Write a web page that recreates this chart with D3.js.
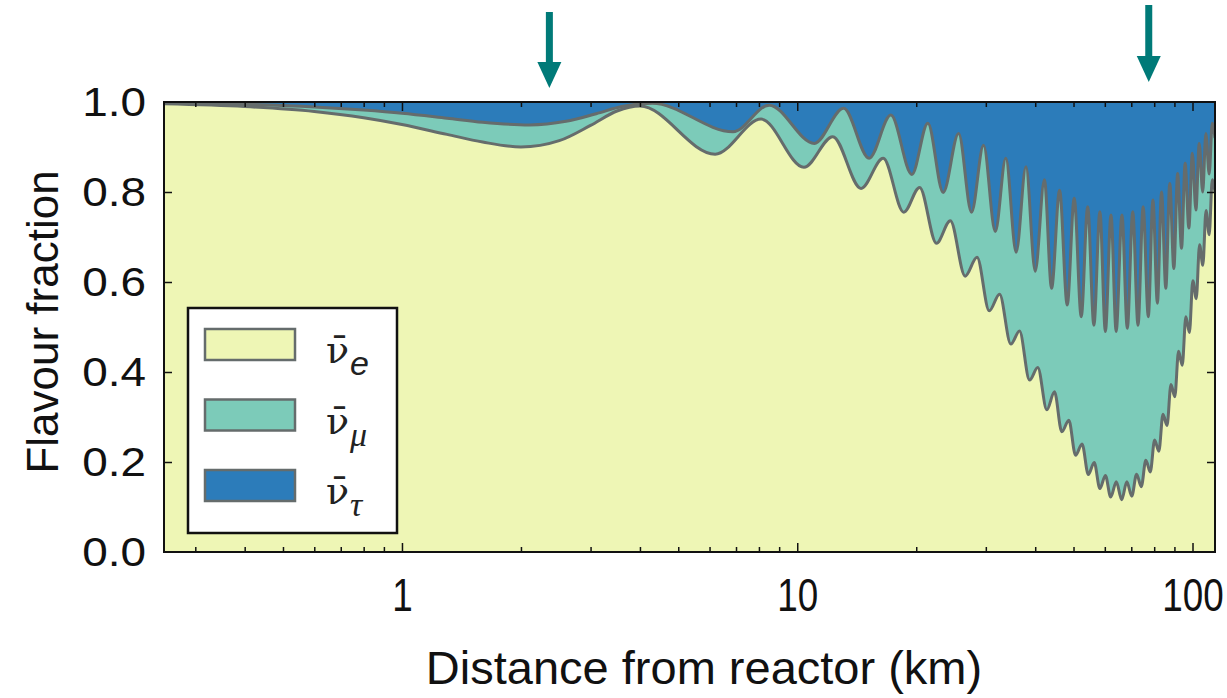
<!DOCTYPE html>
<html><head><meta charset="utf-8">
<script src="https://cdn.jsdelivr.net/npm/d3@7"></script>
<style>body{margin:0;background:#fff;overflow:hidden}</style>
</head><body>
<svg id="chart" width="1227" height="698"></svg>
<script>
// ---- data ----
// lower boundary: electron antineutrino fraction
const eDistKm = [0.25,0.4,0.6,0.8,1.0,1.3,1.6,2.0,2.5,3.0,3.5,4.0,6.2,8.1,10.4,12.3,14.5,16.5,18.6,20.4,22.5,24.4,26.6,28.5,30.6,32.5,34.7,36.5,38.7,40.6,42.8,44.75,46.7,48.65,50.6,52.55,54.5,56.4,58.3,60.2,62.1,64.15,66.2,68.2,70.2,72.2,74.2,76.2,78.2,80.2,82.2,84.2,86.2,88.2,90.2,92.2,94.2,96.2,98.2,100.2,102.2,104.2,106.2,108.2,110.2,112.2,114];
const eFraction = [0.996,0.990,0.979,0.965,0.950,0.928,0.911,0.900,0.914,0.948,0.980,0.991,0.884,0.962,0.855,0.923,0.808,0.875,0.755,0.810,0.686,0.736,0.613,0.655,0.536,0.573,0.462,0.491,0.382,0.410,0.316,0.356,0.267,0.293,0.215,0.240,0.172,0.199,0.141,0.170,0.122,0.156,0.116,0.156,0.124,0.173,0.145,0.204,0.178,0.249,0.224,0.306,0.281,0.372,0.345,0.446,0.415,0.523,0.488,0.603,0.563,0.683,0.637,0.759,0.705,0.827,0.800];
// upper boundary: electron + muon antineutrino fraction (cumulative)
const muDistKm = [0.25,0.4,0.6,0.8,1.0,1.3,1.6,2.1,2.6,3.1,3.6,4.3,6.88,8.49,11.05,13.1,15.2,17.25,19.5,21.4,23.4,25.6,27.6,29.6,31.7,33.7,35.8,37.9,40.0,42.2,44.0,46.1,48.2,50.2,52.3,54.3,56.3,58.3,60.2,62.2,64.1,66.3,68.4,70.6,72.8,75.0,77.3,79.4,81.5,83.5,85.6,87.6,89.7,91.7,93.8,95.8,97.9,99.9,102.0,104.0,106.1,108.1,110.2,112.2,114];
const muTopFraction = [0.998,0.995,0.989,0.982,0.975,0.964,0.955,0.949,0.957,0.974,0.990,0.997,0.934,0.993,0.908,0.986,0.875,0.971,0.839,0.953,0.799,0.930,0.755,0.904,0.712,0.875,0.666,0.856,0.624,0.827,0.586,0.804,0.549,0.786,0.523,0.767,0.504,0.756,0.490,0.749,0.490,0.749,0.497,0.756,0.504,0.767,0.523,0.782,0.553,0.800,0.586,0.819,0.630,0.841,0.675,0.864,0.720,0.886,0.760,0.908,0.800,0.930,0.840,0.953,0.920];
const yTickValues = [0.0,0.2,0.4,0.6,0.8,1.0];
const xMajorTicks = [1,10,100];
const xMinorTicks = [0.3,0.4,0.5,0.6,0.7,0.8,0.9,2,3,4,5,6,7,8,9,20,30,40,50,60,70,80,90];
const legendFlavours = ["e","μ","τ"];
const arrowKm = [2.36,77.5];

// ---- layout ----
const C = {yellow:"#eef6b5", teal:"#7ccbb9", blue:"#2c7cba", line:"#656c6c", arrow:"#007a78"};
const M = {left:164, right:1215, top:102, bottom:552};
const SANS = "Liberation Sans, Arial, sans-serif", SERIF = "Liberation Serif, Times New Roman, serif";
const svg = d3.select("#chart");
const x = d3.scaleLog().domain([0.25,114]).range([M.left,M.right]);
const y = d3.scaleLinear().domain([0,1]).range([M.bottom,M.top]);

svg.append("defs").append("clipPath").attr("id","clip")
  .append("rect").attr("x",M.left).attr("y",M.top).attr("width",M.right-M.left).attr("height",M.bottom-M.top);

const plot = svg.append("g").attr("clip-path","url(#clip)");
const eData = eDistKm.map((d,i)=>[d,eFraction[i]]);
const muData = muDistKm.map((d,i)=>[d,muTopFraction[i]]);

plot.append("rect").attr("x",M.left).attr("y",M.top).attr("width",M.right-M.left).attr("height",M.bottom-M.top).attr("fill",C.blue);
const area = d3.area().x(d=>x(d[0])).y0(y(0)).y1(d=>y(d[1])).curve(d3.curveMonotoneX);
const line = d3.line().x(d=>x(d[0])).y(d=>y(d[1])).curve(d3.curveMonotoneX);
plot.append("path").datum(muData).attr("d",area).attr("fill",C.teal);
plot.append("path").datum(eData).attr("d",area).attr("fill",C.yellow);
plot.append("path").datum(muData).attr("d",line).attr("fill","none").attr("stroke",C.line).attr("stroke-width",3);
plot.append("path").datum(eData).attr("d",line).attr("fill","none").attr("stroke",C.line).attr("stroke-width",3);

// ---- axes ----
function styleAxis(g){ g.select(".domain").remove(); g.selectAll("line").attr("stroke","#111").attr("stroke-width",1.5); }
svg.append("g").attr("transform",`translate(0,${M.bottom})`)
  .call(d3.axisBottom(x).tickValues(xMinorTicks).tickSize(-5).tickFormat("")).call(styleAxis);
svg.append("g").attr("transform",`translate(0,${M.top})`)
  .call(d3.axisTop(x).tickValues(xMinorTicks).tickSize(-5).tickFormat("")).call(styleAxis);
svg.append("g").attr("transform",`translate(0,${M.top})`)
  .call(d3.axisTop(x).tickValues(xMajorTicks).tickSize(-9).tickFormat("")).call(styleAxis);
const xb = svg.append("g").attr("transform",`translate(0,${M.bottom})`)
  .call(d3.axisBottom(x).tickValues(xMajorTicks).tickSize(-9).tickPadding(26).tickFormat(d3.format("d"))).call(styleAxis);
xb.selectAll(".tick text").attr("font-family",SANS).attr("font-size",46).attr("fill","#111")
  .attr("transform","scale(0.8,1)").attr("x",0);

const yl = svg.append("g").attr("transform",`translate(${M.left},0)`)
  .call(d3.axisLeft(y).tickValues(yTickValues).tickSize(-8).tickPadding(18).tickFormat(d3.format(".1f"))).call(styleAxis);
yl.selectAll(".tick text").attr("font-family",SANS).attr("font-size",41).attr("fill","#111")
  .attr("transform","scale(1.12,1)").attr("x",-18/1.12);
yl.selectAll(".tick").filter(d=>d===0||d===1).select("line").remove();
svg.append("g").attr("transform",`translate(${M.right},0)`)
  .call(d3.axisRight(y).tickValues(yTickValues.slice(1,-1)).tickSize(-8).tickFormat("")).call(styleAxis);

svg.append("rect").attr("x",M.left).attr("y",M.top).attr("width",M.right-M.left).attr("height",M.bottom-M.top)
  .attr("fill","none").attr("stroke","#111").attr("stroke-width",2);

// ---- titles ----
svg.append("text").attr("x",704).attr("y",684).attr("text-anchor","middle")
  .attr("font-family",SANS).attr("font-size",47).attr("fill","#111")
  .text("Distance from reactor (km)");
svg.append("text").attr("transform",`translate(58,322) rotate(-90)`).attr("text-anchor","middle")
  .attr("font-family",SANS).attr("font-size",44).attr("fill","#111")
  .text("Flavour fraction");

// ---- legend ----
const lg = svg.append("g");
lg.append("rect").attr("x",188).attr("y",308).attr("width",209).attr("height",225).attr("fill","#fff").attr("stroke","#111").attr("stroke-width",2.5);
const sw = [C.yellow, C.teal, C.blue];
legendFlavours.forEach((f,i)=>{
  const cy = 344 + i*70.5;
  lg.append("rect").attr("x",205).attr("y",cy-15).attr("width",90).attr("height",31).attr("fill",sw[i]).attr("stroke",C.line).attr("stroke-width",2.5);
  const t = lg.append("text").attr("x",326).attr("y",cy+19).attr("fill","#222");
  t.append("tspan").attr("font-family","DejaVu Serif, serif").attr("font-size",38).text("ν\u0304");
  t.append("tspan").attr("font-size",34).attr("font-style","italic").attr("dx",1).attr("dy",12)
    .attr("font-family", i===0 ? SANS : SERIF).text(f);
});

// ---- arrows ----
const tips = [88,82], tops=[12,5];
arrowKm.forEach((k,i)=>{
  const ax = x(k), tip = tips[i], top = tops[i];
  svg.append("rect").attr("x",ax-3.5).attr("y",top).attr("width",7).attr("height",tip-top-20).attr("fill",C.arrow);
  svg.append("path").attr("d",`M${ax-12},${tip-26} L${ax+12},${tip-26} L${ax},${tip} Z`).attr("fill",C.arrow);
});
</script>
</body></html>
